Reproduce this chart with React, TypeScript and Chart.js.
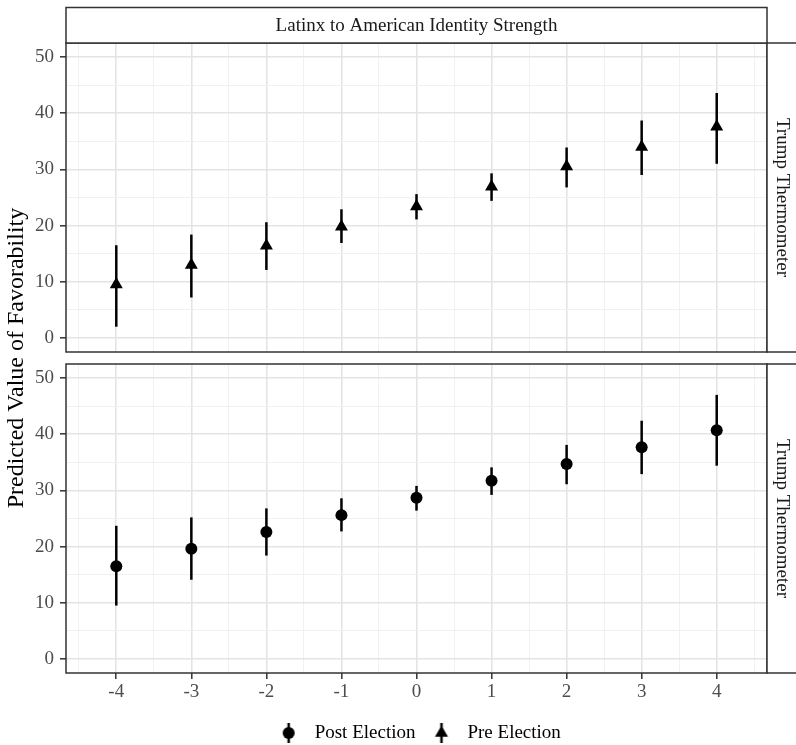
import React, { useEffect, useRef } from 'react';
import { Chart, registerables } from 'chart.js';

Chart.register(...registerables);

// ---- data ----
const identityLevels = [-4, -3, -2, -1, 0, 1, 2, 3, 4];
const preEstimate = [9.5, 13.0, 16.4, 19.8, 23.4, 26.9, 30.5, 34.0, 37.6];
const preLower = [2.0, 7.2, 12.1, 16.9, 21.1, 24.4, 26.8, 29.0, 31.0];
const preUpper = [16.5, 18.4, 20.6, 22.9, 25.6, 29.3, 33.9, 38.7, 43.6];
const postEstimate = [16.5, 19.6, 22.6, 25.6, 28.7, 31.7, 34.7, 37.7, 40.7];
const postLower = [9.5, 14.1, 18.4, 22.7, 26.4, 29.2, 31.1, 32.9, 34.4];
const postUpper = [23.7, 25.2, 26.8, 28.6, 30.8, 34.1, 38.1, 42.4, 47.0];

const xMajorTicks = [-4, -3, -2, -1, 0, 1, 2, 3, 4];
const xMinorTicks = [-4.5, -3.5, -2.5, -1.5, -0.5, 0.5, 1.5, 2.5, 3.5, 4.5];
const yMajorTicks = [0, 10, 20, 30, 40, 50];
const yMinorTicks = [5, 15, 25, 35, 45];

const seriesLabels = ['Post Election', 'Pre Election'];
const columnStrip = 'Latinx to American Identity Strength';
const rowStrip = 'Trump Thermometer';
const yTitle = 'Predicted Value of Favorability';

// ---- styling ----
const FONT = '"Liberation Serif", "Times New Roman", serif';
const MAJOR_GRID = '#e4e4e4';
const MINOR_GRID = '#efefef';
const BORDER = '#333333';

const isMajorX = (v: number) => xMajorTicks.includes(v);
const isMajorY = (v: number) => yMajorTicks.includes(v);

function makeGlyph(kind: 'circle' | 'triangle'): HTMLCanvasElement {
  const c = document.createElement('canvas');
  c.width = 18;
  c.height = 24;
  const g = c.getContext('2d')!;
  g.fillStyle = '#000';
  g.fillRect(9 - 1.25, 2, 2.5, 20);
  g.beginPath();
  if (kind === 'circle') {
    g.arc(9, 12, 6, 0, Math.PI * 2);
  } else {
    const r = 7.5;
    for (let k = 0; k < 3; k++) {
      const a = (k * 2 * Math.PI) / 3;
      const px = 9 + Math.sin(a) * r;
      const py = 12 - Math.cos(a) * r;
      if (k === 0) g.moveTo(px, py);
      else g.lineTo(px, py);
    }
    g.closePath();
  }
  g.fill();
  return c;
}

const panelDecor = {
  id: 'panelDecor',
  beforeDatasetsDraw(chart: any) {
    const { ctx, chartArea } = chart;
    const top = chart.scales.yTop;
    const bot = chart.scales.yBot;
    ctx.save();
    ctx.fillStyle = '#ffffff';
    ctx.fillRect(chartArea.left - 1, top.bottom, chartArea.right - chartArea.left + 2, bot.top - top.bottom);
    ctx.restore();
  },
  afterDraw(chart: any) {
    const { ctx, chartArea } = chart;
    const panels = [chart.scales.yTop, chart.scales.yBot];
    const left = chartArea.left;
    const right = chartArea.right;
    ctx.save();
    ctx.lineWidth = 1.5;
    ctx.strokeStyle = BORDER;
    // panel borders + row strips
    panels.forEach((p: any) => {
      ctx.strokeRect(left, p.top, right - left, p.bottom - p.top);
      ctx.fillStyle = '#ffffff';
      ctx.fillRect(right, p.top, 40, p.bottom - p.top);
      ctx.strokeRect(right, p.top, 40, p.bottom - p.top);
      ctx.save();
      ctx.translate(right + 14.5, (p.top + p.bottom) / 2);
      ctx.rotate(Math.PI / 2);
      ctx.fillStyle = '#1a1a1a';
      ctx.font = `19px ${FONT}`;
      ctx.textAlign = 'center';
      ctx.textBaseline = 'middle';
      ctx.fillText(rowStrip, 0, 0);
      ctx.restore();
    });
    // column strip
    const stripTop = 7.5;
    const stripBottom = panels[0].top;
    ctx.fillStyle = '#ffffff';
    ctx.fillRect(left, stripTop, right - left, stripBottom - stripTop);
    ctx.strokeRect(left, stripTop, right - left, stripBottom - stripTop);
    ctx.fillStyle = '#1a1a1a';
    ctx.font = `19px ${FONT}`;
    ctx.textAlign = 'center';
    ctx.textBaseline = 'middle';
    ctx.fillText(columnStrip, (left + right) / 2, (stripTop + stripBottom) / 2 + 1);
    // y axis title
    ctx.save();
    ctx.translate(17, (panels[0].top + panels[1].bottom) / 2);
    ctx.rotate(-Math.PI / 2);
    ctx.fillStyle = '#000000';
    ctx.font = `24px ${FONT}`;
    ctx.fillText(yTitle, 0, 0);
    ctx.restore();
    ctx.restore();
  },
};

function yAxis(weight: number, stackWeight: number) {
  return {
    type: 'linear',
    position: 'left',
    stack: 'panels',
    stackWeight,
    weight,
    min: -2.5,
    max: 52.5,
    afterBuildTicks: (s: any) => {
      s.ticks = [...yMajorTicks, ...yMinorTicks].sort((a, b) => a - b).map((v) => ({ value: v }));
    },
    afterFit: (s: any) => {
      s.width = 66;
    },
    border: { display: false },
    grid: {
      color: (c: any) => (c.tick && isMajorY(c.tick.value) ? MAJOR_GRID : MINOR_GRID),
      lineWidth: (c: any) => (c.tick && isMajorY(c.tick.value) ? 1.6 : 0.9),
      tickColor: (c: any) => (c.tick && isMajorY(c.tick.value) ? BORDER : 'rgba(0,0,0,0)'),
      tickWidth: 1.5,
      tickLength: 6,
      drawTicks: true,
    },
    ticks: {
      autoSkip: false,
      padding: 6,
      color: '#4d4d4d',
      font: { family: FONT, size: 19 },
      callback: (v: any) => (isMajorY(v) ? String(v) : ''),
    },
  };
}

export default function App() {
  const ref = useRef<HTMLCanvasElement>(null);

  useEffect(() => {
    if (!ref.current) return;
    const circleGlyph = makeGlyph('circle');
    const triangleGlyph = makeGlyph('triangle');

    const chart = new Chart(ref.current, {
      type: 'scatter',
      data: {
        datasets: [
          {
            type: 'bar',
            label: seriesLabels[0] + ' range',
            yAxisID: 'yBot',
            xAxisID: 'x',
            data: identityLevels.map((x, i) => ({ x, y: [postLower[i], postUpper[i]] })) as any,
            backgroundColor: '#000',
            borderWidth: 0,
            grouped: false,
            maxBarThickness: 2.5,
          } as any,
          {
            type: 'scatter',
            label: seriesLabels[0],
            yAxisID: 'yBot',
            xAxisID: 'x',
            data: identityLevels.map((x, i) => ({ x, y: postEstimate[i] })),
            pointStyle: 'circle',
            pointRadius: 6,
            pointBackgroundColor: '#000',
            pointBorderWidth: 0,
          } as any,
          {
            type: 'bar',
            label: seriesLabels[1] + ' range',
            yAxisID: 'yTop',
            xAxisID: 'x',
            data: identityLevels.map((x, i) => ({ x, y: [preLower[i], preUpper[i]] })) as any,
            backgroundColor: '#000',
            borderWidth: 0,
            grouped: false,
            maxBarThickness: 2.5,
          } as any,
          {
            type: 'scatter',
            label: seriesLabels[1],
            yAxisID: 'yTop',
            xAxisID: 'x',
            data: identityLevels.map((x, i) => ({ x, y: preEstimate[i] })),
            pointStyle: 'triangle',
            pointRadius: 7.5,
            pointBackgroundColor: '#000',
            pointBorderWidth: 0,
          } as any,
        ],
      },
      options: {
        animation: false,
        responsive: false,
        maintainAspectRatio: false,
        devicePixelRatio: 1,
        events: [],
        layout: { padding: { top: 43, right: 29, bottom: -7.5, left: 0 } },
        scales: {
          x: {
            type: 'linear',
            position: 'bottom',
            min: -4.67,
            max: 4.67,
            offset: false,
            afterBuildTicks: (s: any) => {
              s.ticks = [...xMajorTicks, ...xMinorTicks].sort((a, b) => a - b).map((v) => ({ value: v }));
            },
            afterFit: (s: any) => {
              s.height = 41;
            },
            border: { display: false },
            grid: {
              offset: false,
              color: (c: any) => (c.tick && isMajorX(c.tick.value) ? MAJOR_GRID : MINOR_GRID),
              lineWidth: (c: any) => (c.tick && isMajorX(c.tick.value) ? 1.6 : 0.9),
              tickColor: (c: any) => (c.tick && isMajorX(c.tick.value) ? BORDER : 'rgba(0,0,0,0)'),
              tickWidth: 1.5,
              tickLength: 6,
              drawTicks: true,
            },
            ticks: {
              autoSkip: false,
              maxRotation: 0,
              padding: 2,
              color: '#4d4d4d',
              font: { family: FONT, size: 19 },
              callback: (v: any) => (isMajorX(v) ? String(v) : ''),
            },
          },
          yTop: yAxis(3, 309),
          ySpacer: {
            type: 'linear',
            position: 'left',
            stack: 'panels',
            stackWeight: 12,
            weight: 2,
            min: 0,
            max: 1,
            afterFit: (s: any) => {
              s.width = 66;
            },
            grid: { display: false },
            ticks: { display: false },
            border: { display: false },
          },
          yBot: yAxis(1, 309),
        } as any,
        plugins: {
          tooltip: { enabled: false },
          legend: {
            display: true,
            position: 'bottom',
            fullSize: false,
            labels: {
              usePointStyle: true,
              pointStyleWidth: 33,
              boxHeight: 19,
              padding: 9.5,
              color: '#000',
              font: { family: FONT, size: 19 },
              generateLabels: () => [
                {
                  text: seriesLabels[0],
                  pointStyle: circleGlyph,
                  fillStyle: '#000',
                  strokeStyle: '#000',
                  lineWidth: 0,
                  hidden: false,
                  fontColor: '#000',
                  datasetIndex: 1,
                },
                {
                  text: seriesLabels[1],
                  pointStyle: triangleGlyph,
                  fillStyle: '#000',
                  strokeStyle: '#000',
                  lineWidth: 0,
                  hidden: false,
                  fontColor: '#000',
                  datasetIndex: 3,
                },
              ],
            },
          } as any,
        },
      },
      plugins: [panelDecor as any],
    });

    return () => chart.destroy();
  }, []);

  return (
    <div style={{ position: 'absolute', left: 0, top: 0, width: 796, height: 745, background: '#fff' }}>
      <canvas ref={ref} width={796} height={745} style={{ display: 'block', width: 796, height: 745 }} />
    </div>
  );
}
